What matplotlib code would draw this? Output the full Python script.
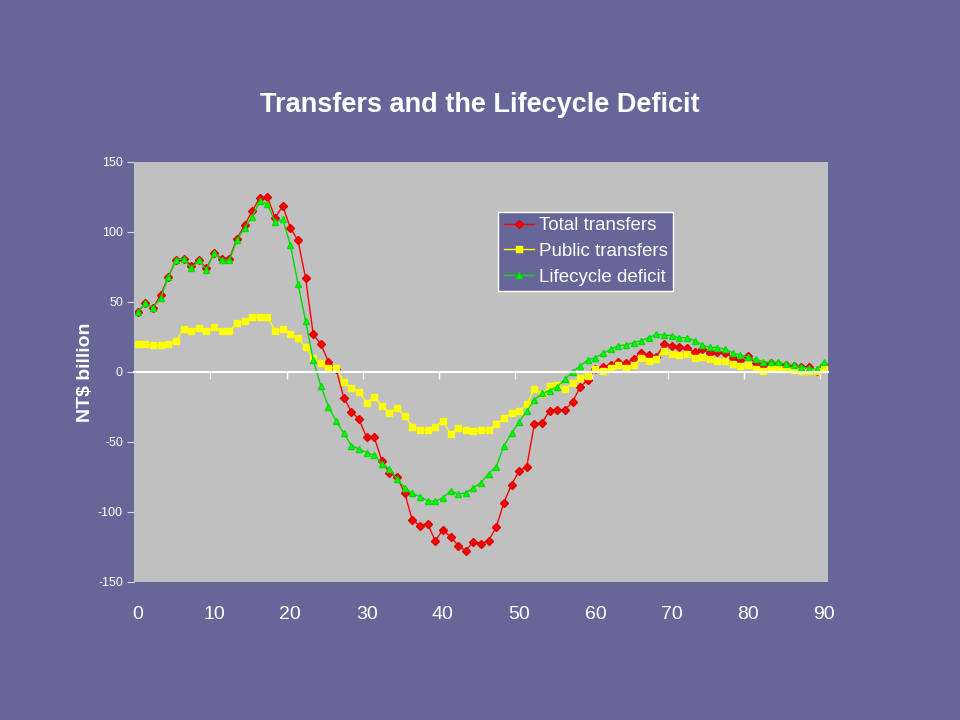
import numpy as np
import matplotlib.pyplot as plt
from matplotlib.ticker import FuncFormatter

plt.rcParams['font.family'] = ['Liberation Sans', 'DejaVu Sans']

ages = np.arange(0, 91)

total_transfers = [
    43, 49, 46, 55, 68, 80, 81, 76, 80, 74, 85, 81, 81, 95, 105,
    115, 124.5, 125, 110, 118.6, 103, 94, 67, 27, 19.8, 7.4, 2,
    -18.3, -28.3, -33.8, -46.7, -46.7, -63.3, -72.4, -74.8, -86.7, -106,
    -109.7, -108.6, -120.5, -112.9, -117.6, -124, -127.6, -121.2, -122.6, -120.5,
    -110.7, -93.3, -80.5, -70.7, -67.6, -36.9, -36.4, -27.6, -27.1, -27.1,
    -21.4, -10.7, -5.7, 2.1, 3.8, 5, 6.9, 6.2, 9.3, 13.8, 12.1, 11,
    19.8, 18.8, 18.1, 17.4, 14, 16.2, 13.3, 14.5, 13.8, 10.2, 8.6, 11.4,
    6.2, 5, 6.7, 5.7, 5, 4.3, 3.3, 3.8, 1, 5,
]

public_transfers = [
    20, 20, 19, 19, 20, 22, 30.7, 29, 31.7, 29, 32, 29, 29, 35, 36.4,
    39, 39.5, 39.5, 29.5, 30.7, 27, 24.5, 17.6, 9.8, 6.2, 2.9, 2.9,
    -6.9, -11.7, -14, -21.9, -18, -24.3, -29, -26, -31.4, -39,
    -41.4, -41.4, -39, -35, -44.3, -39.8, -41.4, -42.1, -41.4, -41.4,
    -37.1, -33, -29.5, -27.9, -22.9, -12.1, -16, -9.8, -9.3, -12.4,
    -7.6, -4.5, -2.9, 2.1, 1, 2.6, 5, 3.1, 5, 9.8, 8.1, 9.3,
    15.2, 12.9, 12.1, 12.6, 10.2, 11, 9.3, 7.9, 7.9, 5.5, 4.3, 5,
    1.9, 1, 2.6, 2.6, 2.1, 1.4, 0.7, 0.7, 0.7, 2.6,
]

lifecycle_deficit = [
    43, 49, 46, 53, 68, 80, 81, 74, 80, 73, 85, 80, 80, 94, 103,
    111, 122, 120, 107, 109, 91, 63, 36.4, 8.6, -10, -24.8, -35,
    -43.8, -52.6, -55, -57.6, -59.3, -65.7, -69.3, -76.4, -82.6, -86.7,
    -89, -92, -92.4, -90, -84.8, -87.4, -86.2, -82.9, -79, -72.6,
    -67.6, -52.9, -43.8, -35.7, -27.9, -20, -15.2, -13.3, -10.5, -5.2,
    0.2, 4.3, 8.6, 10.2, 13.3, 16.2, 18.8, 19.3, 21, 22.4, 24.5, 26.9,
    26.4, 26, 24.5, 24.5, 22.4, 19.3, 17.6, 17.4, 16.2, 13.8, 12.1, 10.5,
    9, 7.4, 6.9, 6.9, 5.5, 4.8, 3.8, 2.6, 1.9, 7.1,
]

bg = '#666699'
fig = plt.figure(figsize=(9.6, 7.2), dpi=100, facecolor=bg)
ax = fig.add_axes([0.1396, 0.1917, 0.7229, 0.5833])
ax.set_facecolor('#C0C0C0')

ax.plot(ages, total_transfers, color='#FF0000', lw=1, marker='D', markersize=3.8,
        markerfacecolor='#FF0000', markeredgecolor='#DD0000', label='Total transfers')
ax.plot(ages, public_transfers, color='#FFFF00', lw=1, marker='s', markersize=4.6,
        markerfacecolor='#FFFF00', markeredgecolor='#FFFF00', label='Public transfers')
ax.plot(ages, lifecycle_deficit, color='#00DD00', lw=1, marker='^', markersize=5,
        markerfacecolor='#00FF00', markeredgecolor='#00DD00', label='Lifecycle deficit')

ax.set_xlim(-0.5, 90.5)
ax.set_ylim(-150, 150)

# category axis crosses at zero, tick marks between categories
for s in ['top', 'right']:
    ax.spines[s].set_visible(False)
ax.spines['bottom'].set_position(('data', 0))
ax.spines['bottom'].set_color('white')
ax.spines['bottom'].set_linewidth(1.5)
ax.spines['left'].set_color('#C0C0C0')
ax.set_xticks(np.arange(9.5, 90, 10))
ax.tick_params(axis='x', direction='out', length=5, width=1, color='white', labelbottom=False)

sec = ax.secondary_xaxis('bottom')
sec.set_xticks(range(0, 91, 10))
sec.tick_params(length=0, pad=17, labelsize=14, labelcolor='white')
sec.spines['bottom'].set_visible(False)

ax.set_yticks(range(-150, 151, 50))
ax.yaxis.set_major_formatter(FuncFormatter(lambda v, p: '%d' % v))
ax.tick_params(axis='y', direction='out', length=5, color='#DDDDDD', labelsize=9,
               labelcolor='white', pad=3)
ax.set_ylabel('NT$ billion', color='white', fontsize=14, fontweight='bold', labelpad=3)

fig.text(0.5, 0.854, 'Transfers and the Lifecycle Deficit', ha='center', va='center',
         color='white', fontsize=19.5, fontweight='bold')

leg = ax.legend(loc='upper left', bbox_to_anchor=(0.519, 0.706), bbox_transform=fig.transFigure,
                fontsize=13.5, frameon=True, fancybox=False, facecolor=bg, edgecolor='white',
                framealpha=1, handlelength=1.6, handletextpad=0.25, borderpad=0.3,
                labelspacing=0.45, borderaxespad=0)
leg.get_frame().set_linewidth(1)
for t in leg.get_texts():
    t.set_color('white')

fig.savefig('out.png', dpi=100, facecolor=bg)
